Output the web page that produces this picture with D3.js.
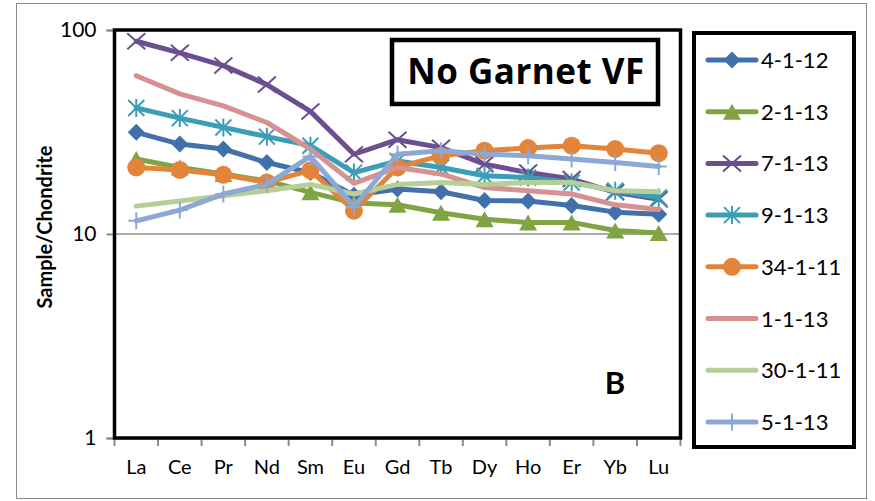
<!DOCTYPE html>
<html>
<head>
<meta charset="utf-8">
<script src="https://cdn.jsdelivr.net/npm/d3@7/dist/d3.min.js"></script>
<style>
  html, body { margin: 0; padding: 0; background: #fff; }
  svg { display: block; font-family: Lato, "Open Sans", "DejaVu Sans", sans-serif; }
</style>
</head>
<body>
<svg id="chart" width="875" height="501"></svg>
<script>
// Rare earth elements along the x axis
const elements = ["La", "Ce", "Pr", "Nd", "Sm", "Eu", "Gd", "Tb", "Dy", "Ho", "Er", "Yb", "Lu"];

// Chondrite-normalised values for each sample
const s4_1_12  = [31.5, 27.6, 26.1, 22.4, 20.0, 15.5, 16.6, 16.1, 14.6, 14.5, 13.8, 12.8, 12.5];
const s2_1_13  = [23.3, 21.2, 19.7, 18.2, 16.0, 14.2, 13.9, 12.7, 11.8, 11.4, 11.4, 10.4, 10.1];
const s7_1_13  = [88.1, 77.3, 66.9, 54.0, 39.9, 24.6, 29.0, 26.5, 22.0, 20.0, 18.6, 16.0, 14.8];
const s9_1_13  = [41.5, 37.0, 33.3, 30.0, 27.1, 20.0, 22.8, 21.2, 19.3, 18.9, 17.9, 16.3, 15.1];
const s34_1_11 = [21.2, 20.6, 19.5, 17.9, 20.5, 13.0, 21.2, 24.2, 25.6, 26.4, 27.1, 26.1, 24.9];
const s1_1_13  = [59.7, 48.6, 42.5, 35.2, 26.1, 17.7, 21.2, 19.7, 16.9, 16.3, 15.7, 13.9, 13.2];
const s30_1_11 = [13.7, 14.5, 15.4, 16.3, 17.5, 15.7, 17.5, 17.9, 17.5, 17.9, 17.9, 16.3, 16.1];
const s5_1_13  = [11.6, 13.1, 15.7, 17.5, 24.0, 13.6, 24.6, 25.6, 24.6, 24.2, 23.3, 22.4, 21.4];

const sampleNames = ["4-1-12", "2-1-13", "7-1-13", "9-1-13", "34-1-11", "1-1-13", "30-1-11", "5-1-13"];
const yTicks = [1, 10, 100];

const series = [
  { name: sampleNames[0], values: s4_1_12,  color: "#4270AA", marker: "diamond" },
  { name: sampleNames[1], values: s2_1_13,  color: "#80A441", marker: "triangle" },
  { name: sampleNames[2], values: s7_1_13,  color: "#6C4E91", marker: "x" },
  { name: sampleNames[3], values: s9_1_13,  color: "#3A9EB6", marker: "asterisk" },
  { name: sampleNames[4], values: s34_1_11, color: "#E2843A", marker: "circle" },
  { name: sampleNames[5], values: s1_1_13,  color: "#D69290", marker: "none" },
  { name: sampleNames[6], values: s30_1_11, color: "#B6CF98", marker: "none" },
  { name: sampleNames[7], values: s5_1_13,  color: "#8EA8D5", marker: "plus" }
];

const svg = d3.select("#chart");

// outer frame
svg.append("rect").attr("x", 16.5).attr("y", 3.5).attr("width", 850).attr("height", 495)
  .attr("fill", "#fff").attr("stroke", "#8a8a8a").attr("stroke-width", 1);

const plot = { left: 114.5, right: 680.5, top: 30, bottom: 438 };

const x = d3.scaleBand().domain(elements).range([plot.left, plot.right]).paddingInner(0).paddingOuter(0);
const cx = d => x(d) + x.bandwidth() / 2;
const y = d3.scaleLog().domain([1, 100]).range([plot.bottom, plot.top]);

// gridline at 10
svg.append("line")
  .attr("x1", plot.left).attr("x2", plot.right)
  .attr("y1", y(10)).attr("y2", y(10))
  .attr("stroke", "#8c8c8c").attr("stroke-width", 1.5);

// y axis
const yAxis = d3.axisLeft(y).tickValues(yTicks).tickFormat(d3.format("d")).tickSize(8).tickPadding(10);
const gy = svg.append("g").attr("transform", `translate(${plot.left},0)`).call(yAxis);
gy.select(".domain").attr("stroke", "#8c8c8c").attr("stroke-width", 2);
gy.selectAll(".tick line").attr("stroke", "#8c8c8c").attr("stroke-width", 2);
gy.selectAll(".tick text").attr("font-size", 21).attr("fill", "#000")
  .attr("font-family", "Lato, sans-serif");

// x axis: ticks at the band edges, labels at band centres
const xAxis = d3.axisBottom(x).tickSize(0).tickPadding(22);
const gx = svg.append("g").attr("transform", `translate(0,${plot.bottom})`).call(xAxis);
gx.select(".domain").attr("stroke", "#8c8c8c").attr("stroke-width", 2);
gx.selectAll(".tick text").attr("font-size", 20).attr("fill", "#000")
  .attr("font-family", "Lato, sans-serif");
const edges = elements.map(e => x(e)).concat([x(elements[elements.length - 1]) + x.bandwidth()]);
gx.selectAll(".edge").data(edges).enter().append("line")
  .attr("x1", d => d).attr("x2", d => d).attr("y1", 0).attr("y2", 8)
  .attr("stroke", "#8c8c8c").attr("stroke-width", 2);

// series lines and markers
const line = d3.line().x((d, i) => cx(elements[i])).y(d => y(d)).curve(d3.curveLinear);

function drawMarker(g, type, color, px, py) {
  if (type === "diamond") {
    g.append("path").attr("d", `M${px},${py - 8.5}L${px + 8.5},${py}L${px},${py + 8.5}L${px - 8.5},${py}Z`)
      .attr("fill", color);
  } else if (type === "triangle") {
    g.append("path").attr("d", `M${px},${py - 8}L${px + 9},${py + 8}L${px - 9},${py + 8}Z`)
      .attr("fill", color);
  } else if (type === "circle") {
    g.append("circle").attr("cx", px).attr("cy", py).attr("r", 9).attr("fill", color);
  } else if (type === "x") {
    g.append("path").attr("d", `M${px - 9},${py - 8}L${px + 9},${py + 8}M${px - 9},${py + 8}L${px + 9},${py - 8}`)
      .attr("stroke", color).attr("stroke-width", 2).attr("fill", "none");
  } else if (type === "asterisk") {
    g.append("path").attr("d", `M${px - 8},${py - 8}L${px + 8},${py + 8}M${px - 8},${py + 8}L${px + 8},${py - 8}M${px},${py - 9}L${px},${py + 9}`)
      .attr("stroke", color).attr("stroke-width", 2).attr("fill", "none");
  } else if (type === "plus") {
    g.append("path").attr("d", `M${px},${py - 8.5}L${px},${py + 8.5}M${px - 8},${py}L${px + 8},${py}`)
      .attr("stroke", color).attr("stroke-width", 2).attr("fill", "none");
  }
}

series.forEach(s => {
  const g = svg.append("g");
  g.append("path").datum(s.values).attr("d", line)
    .attr("fill", "none").attr("stroke", s.color).attr("stroke-width", 5)
    .attr("stroke-linejoin", "round").attr("stroke-linecap", "round");
  s.values.forEach((v, i) => drawMarker(g, s.marker, s.color, cx(elements[i]), y(v)));
});

// plot frame
svg.append("rect").attr("x", plot.left).attr("y", plot.top)
  .attr("width", plot.right - plot.left).attr("height", plot.bottom - plot.top)
  .attr("fill", "none").attr("stroke", "#000").attr("stroke-width", 3.5);

// y axis title
svg.append("text").attr("transform", "translate(52,227) rotate(-90)")
  .attr("text-anchor", "middle").attr("font-size", 20).attr("font-weight", "bold")
  .attr("font-family", "Lato, sans-serif").text("Sample/Chondrite");

// title box
svg.append("rect").attr("x", 392).attr("y", 40).attr("width", 266).attr("height", 64)
  .attr("fill", "#fff").attr("stroke", "#000").attr("stroke-width", 4.5);
svg.append("text").attr("x", 526).attr("y", 84).attr("text-anchor", "middle")
  .attr("font-size", 35).attr("font-weight", "bold").attr("letter-spacing", 0.5)
  .attr("font-family", "'Open Sans', Lato, sans-serif")
  .text("No Garnet VF");

// panel letter
svg.append("text").attr("x", 615).attr("y", 394).attr("text-anchor", "middle")
  .attr("font-size", 31).attr("font-weight", "bold").attr("font-family", "Lato, sans-serif")
  .text("B");

// legend
const legend = svg.append("g");
legend.append("rect").attr("x", 694).attr("y", 33).attr("width", 160).attr("height", 414)
  .attr("fill", "#fff").attr("stroke", "#000").attr("stroke-width", 4);
series.forEach((s, i) => {
  const ly = 60 + i * 51.7;
  const g = legend.append("g");
  g.append("line").attr("x1", 708).attr("x2", 756).attr("y1", ly).attr("y2", ly)
    .attr("stroke", s.color).attr("stroke-width", 5).attr("stroke-linecap", "round");
  drawMarker(g, s.marker, s.color, 732, ly);
  g.append("text").attr("x", 761).attr("y", ly + 8).attr("font-size", 22)
    .attr("font-family", "Lato, sans-serif").attr("fill", "#000").text(s.name);
});
</script>
</body>
</html>
